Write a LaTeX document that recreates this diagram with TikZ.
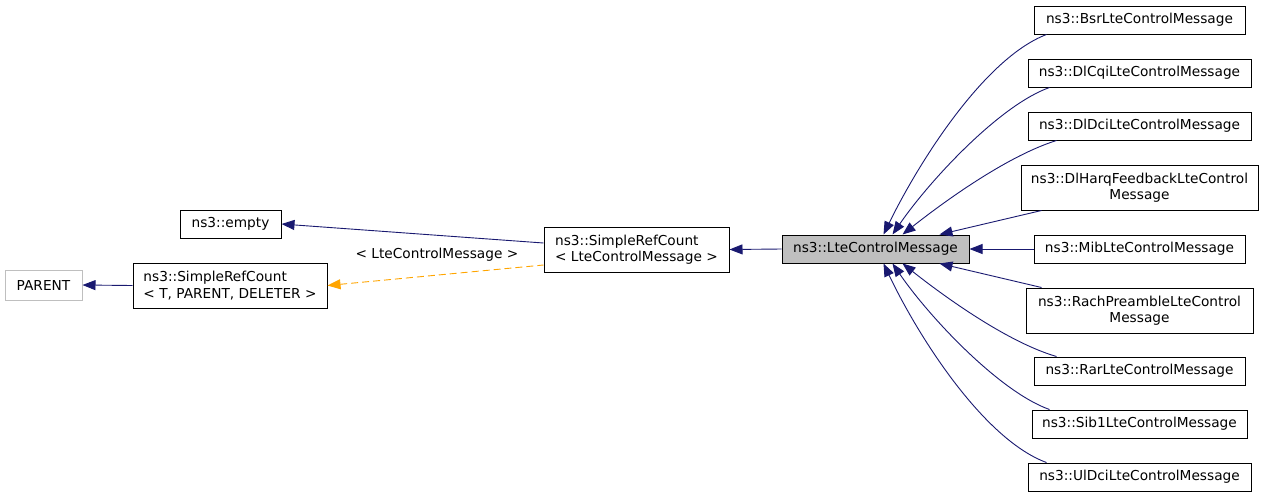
\documentclass[tikz,border=0pt]{standalone}
\usepackage{fontspec}
\setmainfont{DejaVu Sans}
\usetikzlibrary{arrows.meta}
\definecolor{navy}{HTML}{191970}
\definecolor{orng}{HTML}{FFA500}
\definecolor{gbox}{HTML}{BFBFBF}
\begin{document}
\begin{tikzpicture}[x=1pt,y=-1pt,
  every node/.style={font=\fontsize{13.7}{16.5}\selectfont},
  cls/.style={draw=black,line width=1pt,inner sep=0pt,minimum height=28pt},
  cls2/.style={cls,minimum height=45pt},
  arr/.style={draw=navy,line width=0.9pt,{Triangle[length=13pt,width=10pt]}-},
  darr/.style={draw=orng,line width=0.9pt,dash pattern=on 7pt off 4pt,{Triangle[length=13pt,width=10pt,fill=orng]}-}
]
\useasboundingbox (0,0) rectangle (1264,499);
\node[cls,draw=gbox,minimum width=77pt,minimum height=30pt] (parent) at (43.5,285) {PARENT};
\node[cls2,minimum width=194pt,align=left] (srct) at (230,285.5) {ns3::SimpleRefCount\\< T, PARENT, DELETER >};
\node[cls,minimum width=101pt] (empty) at (230.5,224) {ns3::empty};
\node[cls2,minimum width=185pt,align=left] (srcl) at (636.5,249.5) {ns3::SimpleRefCount\\< LteControlMessage >};
\node[cls,fill=gbox,minimum width=187pt] (lcm) at (875.5,249) {ns3::LteControlMessage};
\node[cls,minimum width=211pt] (bsr) at (1139.5,20) {ns3::BsrLteControlMessage};
\node[cls,minimum width=223pt] (dlcqi) at (1139.5,73) {ns3::DlCqiLteControlMessage};
\node[cls,minimum width=223pt] (dldci) at (1139.5,126) {ns3::DlDciLteControlMessage};
\node[cls2,minimum width=237pt,align=center] (dlharq) at (1139.5,187.5) {ns3::DlHarqFeedbackLteControl\\Message};
\node[cls,minimum width=211pt] (mib) at (1139.5,249) {ns3::MibLteControlMessage};
\node[cls2,minimum width=227pt,align=center] (rach) at (1139.5,310.5) {ns3::RachPreambleLteControl\\Message};
\node[cls,minimum width=211pt] (rar) at (1139.5,371) {ns3::RarLteControlMessage};
\node[cls,minimum width=215pt] (sib1) at (1139.5,424) {ns3::Sib1LteControlMessage};
\node[cls,minimum width=223pt] (uldci) at (1139.5,477) {ns3::UlDciLteControlMessage};
\node (lbl) at (437,255) {< LteControlMessage >};
% edges
\draw[arr] (parent.east) -- (srct.west);
\draw[arr] (empty.east) -- ([yshift=6.5pt]srcl.west);
\draw[darr] (srct.east) -- ([yshift=-15.5pt]srcl.west);
\draw[arr] (srcl.east) -- (lcm.west);
\draw[arr] (lcm.east) -- (mib.west);
\draw[arr] ([xshift=102pt]lcm.north west) .. controls (920,160) and (985,58) .. ([xshift=13pt]bsr.south west);
\draw[arr] ([xshift=111pt]lcm.north west) .. controls (930,180) and (1000,105) .. ([xshift=22pt]dlcqi.south west);
\draw[arr] ([xshift=121pt]lcm.north west) .. controls (950,197) and (1010,155) .. ([xshift=29pt]dldci.south west);
\draw[arr] ([xshift=158pt]lcm.north west) -- ([xshift=21pt]dlharq.south west);
\draw[arr] ([xshift=158pt]lcm.south west) -- ([xshift=16pt]rach.north west);
\draw[arr] ([xshift=121pt]lcm.south west) .. controls (950,301) and (1010,343) .. ([xshift=23pt]rar.north west);
\draw[arr] ([xshift=111pt]lcm.south west) .. controls (930,318) and (1000,392) .. ([xshift=18pt]sib1.north west);
\draw[arr] ([xshift=102pt]lcm.south west) .. controls (920,340) and (985,440) .. ([xshift=19pt]uldci.north west);
\end{tikzpicture}
\end{document}
